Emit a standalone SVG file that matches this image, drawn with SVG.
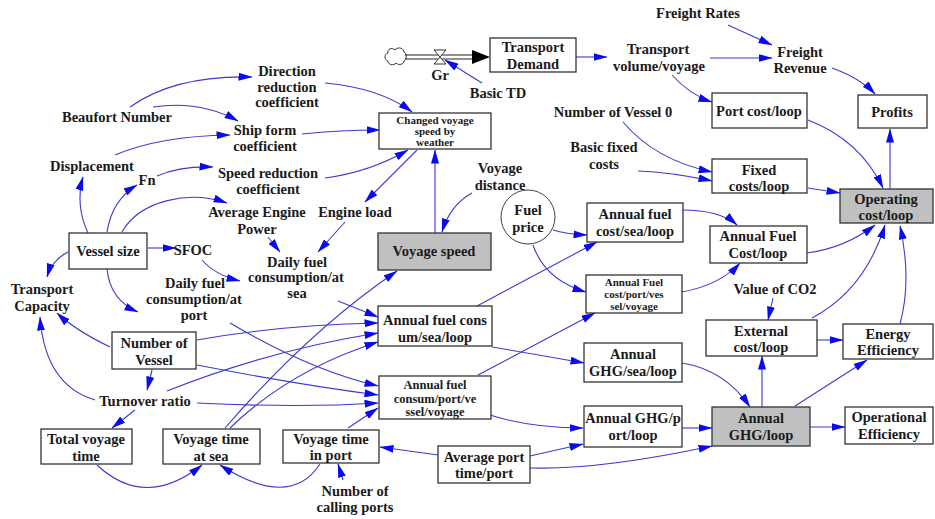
<svg xmlns="http://www.w3.org/2000/svg" width="935" height="519" viewBox="0 0 935 519">
<style>
text{font-family:"Liberation Serif","Times New Roman",serif;font-weight:bold;font-size:14.5px;fill:#1a1a1a;text-anchor:middle}
.tight{font-size:11px}
.mid{font-size:12.5px}
.box{fill:#fff;stroke:#333;stroke-width:1.3}
.gray{fill:#c0c0c0;stroke:#333;stroke-width:1.3}
#connectors path{fill:none;stroke:#3a3ad0;stroke-width:1.1;marker-end:url(#ah)}
</style>
<defs>
<marker id="ah" viewBox="0 0 14 8" refX="13.5" refY="4" markerWidth="14" markerHeight="8" orient="auto" markerUnits="userSpaceOnUse">
<path d="M0,0 L14,4 L0,8 Z" fill="#0a0af0"/>
</marker>
</defs>
<rect width="935" height="519" fill="#fff"/>

<g id="connectors">
<path d="M130,107 Q175,75 252,77"/>
<path d="M153,107 Q200,100 238,121"/>
<path d="M115,155 Q160,136 230,135"/>
<path d="M157,176 Q180,166 213,167"/>
<path d="M88,233 Q75,205 83,177"/>
<path d="M107,232 Q112,200 137,185"/>
<path d="M122,232 C140,200 190,190 227,203"/>
<path d="M148,248 L176,248"/>
<path d="M68,252 Q52,260 47,277"/>
<path d="M107,269 Q110,300 138,312"/>
<path d="M202,260 Q215,275 240,281"/>
<path d="M268,237 L280,252"/>
<path d="M345,222 L318,252"/>
<path d="M417,150 L365,202"/>
<path d="M325,83 Q380,88 412,112"/>
<path d="M302,134 Q340,130 380,130"/>
<path d="M325,178 Q370,172 408,150"/>
<path d="M435,233 L435,150"/>
<path d="M472,193 Q450,205 442,232"/>
<path d="M576,57 L607,57"/>
<path d="M728,25 L772,45"/>
<path d="M710,58 L772,58"/>
<path d="M672,75 Q690,95 712,102"/>
<path d="M832,68 Q860,78 875,94"/>
<path d="M623,122 Q655,160 712,172"/>
<path d="M638,171 Q670,172 712,181"/>
<path d="M808,120 Q860,140 883,188"/>
<path d="M890,189 L890,129"/>
<path d="M808,188 L840,193"/>
<path d="M682,210 Q720,210 737,225"/>
<path d="M682,292 Q720,285 740,263"/>
<path d="M807,253 Q845,248 875,225"/>
<path d="M773,298 L768,320"/>
<path d="M812,318 Q865,290 885,225"/>
<path d="M900,324 Q912,280 900,226"/>
<path d="M817,340 L843,340"/>
<path d="M762,407 L762,356"/>
<path d="M795,406 L867,360"/>
<path d="M810,427 L845,427"/>
<path d="M682,363 Q725,370 750,407"/>
<path d="M682,428 L712,428"/>
<path d="M530,468 Q600,470 712,446"/>
<path d="M530,456 L583,444"/>
<path d="M438,455 L380,447"/>
<path d="M343,480 L338,464"/>
<path d="M490,415 Q530,428 583,428"/>
<path d="M478,375 L595,313"/>
<path d="M477,306 L597,242"/>
<path d="M492,347 Q540,355 584,363"/>
<path d="M553,230 Q565,234 587,235"/>
<path d="M533,245 Q545,280 586,292"/>
<path d="M338,301 L378,317"/>
<path d="M197,340 Q280,325 378,323"/>
<path d="M167,391 Q270,350 378,333"/>
<path d="M230,428 Q290,370 378,342"/>
<path d="M225,428 Q310,330 397,271"/>
<path d="M230,323 Q310,370 378,386"/>
<path d="M197,365 Q300,385 378,395"/>
<path d="M197,403 Q300,408 378,403"/>
<path d="M348,428 L378,408"/>
<path d="M110,347 Q75,330 57,313"/>
<path d="M95,400 Q45,385 40,317"/>
<path d="M152,370 L147,390"/>
<path d="M135,410 L112,428"/>
<path d="M97,465 Q145,510 202,465"/>
<path d="M320,464 Q290,510 220,465"/>
<path d="M482,83 L445,60"/>
</g>

<g id="flow_gr">
<path d="M404,52 C403,47 397,47 395,50 C392,47 387,49 388,53 C384,54 384,60 388,61 C388,65 394,66 396,63 C399,66 404,64 404,61 C407,60 407,53 404,52 Z" fill="#fff" stroke="#333" stroke-width="1"/>
<line x1="405" y1="55" x2="474" y2="55" stroke="#222" stroke-width="1.2"/>
<line x1="405" y1="59" x2="474" y2="59" stroke="#222" stroke-width="1.2"/>
<path d="M434,50 H446 L434,64 H446 Z" fill="#fff" stroke="#333" stroke-width="1"/>
<path d="M472,50 L490,57 L472,64 Z" fill="#000"/>
<text x="440" y="80">Gr</text>
</g>
<g id="basic_td"><text x="498" y="98">Basic TD</text></g>
<g id="transport_demand"><rect class="box" x="490" y="38" width="86" height="34"/><text x="533" y="52">Transport</text><text x="533" y="69">Demand</text></g>
<g id="freight_rates"><text x="698" y="18">Freight Rates</text></g>
<g id="transport_volume"><text x="658" y="54">Transport</text><text x="659" y="71">volume/voyage</text></g>
<g id="freight_revenue"><text x="800" y="57">Freight</text><text x="800" y="73">Revenue</text></g>
<g id="profits"><rect class="box" x="858" y="95" width="69" height="33"/><text x="892" y="117">Profits</text></g>
<g id="port_cost"><rect class="box" x="712" y="93" width="95" height="35"/><text x="759" y="116">Port cost/loop</text></g>
<g id="number_vessel0"><text x="613" y="117">Number of Vessel 0</text></g>
<g id="basic_fixed"><text x="604" y="152">Basic fixed</text><text x="604" y="169">costs</text></g>
<g id="fixed_costs"><rect class="box" x="712" y="159" width="95" height="34"/><text x="759" y="175">Fixed</text><text x="759" y="191">costs/loop</text></g>
<g id="operating_cost"><rect class="gray" x="840" y="189" width="93" height="34"/><text x="886" y="204">Operating</text><text x="886" y="220">cost/loop</text></g>
<g id="annual_fuel_cost_loop"><rect class="box" x="710" y="226" width="97" height="37"/><text x="758" y="241">Annual Fuel</text><text x="758" y="258">Cost/loop</text></g>
<g id="value_co2"><text x="775" y="294">Value of CO2</text></g>
<g id="external_cost"><rect class="box" x="706" y="320" width="111" height="36"/><text x="761" y="336">External</text><text x="761" y="352">cost/loop</text></g>
<g id="energy_efficiency"><rect class="box" x="843" y="324" width="90" height="35"/><text x="888" y="339">Energy</text><text x="888" y="355">Efficiency</text></g>
<g id="annual_ghg_loop"><rect class="gray" x="712" y="407" width="98" height="39"/><text x="761" y="423">Annual</text><text x="761" y="440">GHG/loop</text></g>
<g id="operational_efficiency"><rect class="box" x="845" y="407" width="88" height="37"/><text x="889" y="422">Operational</text><text x="889" y="439">Efficiency</text></g>
<g id="annual_ghg_sea"><rect class="box" x="584" y="343" width="98" height="39"/><text x="633" y="359">Annual</text><text x="633" y="376">GHG/sea/loop</text></g>
<g id="annual_ghg_port"><rect class="box" x="584" y="406" width="98" height="41"/><text x="633" y="423">Annual GHG/p</text><text x="633" y="440">ort/loop</text></g>
<g id="annual_fuel_cost_sea"><rect class="box" x="587" y="203" width="96" height="39"/><text x="635" y="219">Annual fuel</text><text x="635" y="236">cost/sea/loop</text></g>
<g id="annual_fuel_cost_port"><rect class="box" x="586" y="275" width="96" height="38"/><text class="tight" x="634" y="286">Annual Fuel</text><text class="tight" x="634" y="298">cost/port/ves</text><text class="tight" x="634" y="310">sel/voyage</text></g>
<g id="fuel_price"><circle cx="528" cy="217" r="27" fill="#fff" stroke="#444" stroke-width="1"/><text x="528" y="215">Fuel</text><text x="528" y="232">price</text></g>
<g id="voyage_distance"><text x="500" y="173">Voyage</text><text x="500" y="190">distance</text></g>
<g id="voyage_speed"><rect class="gray" x="378" y="233" width="113" height="37"/><text x="434" y="256">Voyage speed</text></g>
<g id="changed_voyage_speed"><rect class="box" x="379" y="113" width="112" height="36"/><text class="tight" x="435" y="124">Changed voyage</text><text class="tight" x="435" y="135">speed by</text><text class="tight" x="435" y="146">weather</text></g>
<g id="direction_reduction"><text x="287" y="76">Direction</text><text x="287" y="92">reduction</text><text x="287" y="107">coefficient</text></g>
<g id="beaufort"><text x="117" y="122">Beaufort Number</text></g>
<g id="ship_form"><text x="265" y="135">Ship form</text><text x="265" y="151">coefficient</text></g>
<g id="displacement"><text x="92" y="171">Displacement</text></g>
<g id="fn"><text x="147" y="185">Fn</text></g>
<g id="speed_reduction"><text x="268" y="178">Speed reduction</text><text x="268" y="194">coefficient</text></g>
<g id="avg_engine_power"><text x="257" y="217">Average Engine</text><text x="257" y="234">Power</text></g>
<g id="engine_load"><text x="355" y="217">Engine load</text></g>
<g id="sfoc"><text x="193" y="255">SFOC</text></g>
<g id="vessel_size"><rect class="box" x="69" y="233" width="78" height="36"/><text x="108" y="256">Vessel size</text></g>
<g id="daily_fuel_sea"><text x="297" y="267">Daily fuel</text><text x="296" y="282">consumption/at</text><text x="297" y="298">sea</text></g>
<g id="daily_fuel_port"><text x="195" y="288">Daily fuel</text><text x="194" y="304">consumption/at</text><text x="194" y="320">port</text></g>
<g id="transport_capacity"><text x="42" y="294">Transport</text><text x="42" y="311">Capacity</text></g>
<g id="number_vessel"><rect class="box" x="112" y="332" width="84" height="37"/><text x="154" y="348">Number of</text><text x="154" y="365">Vessel</text></g>
<g id="turnover_ratio"><text x="145" y="406">Turnover ratio</text></g>
<g id="total_voyage_time"><rect class="box" x="41" y="429" width="91" height="35"/><text x="86" y="444">Total voyage</text><text x="86" y="461">time</text></g>
<g id="voyage_time_sea"><rect class="box" x="163" y="429" width="97" height="35"/><text x="211" y="444">Voyage time</text><text x="211" y="461">at sea</text></g>
<g id="voyage_time_port"><rect class="box" x="283" y="430" width="96" height="33"/><text x="331" y="444">Voyage time</text><text x="331" y="460">in port</text></g>
<g id="calling_ports"><text x="355" y="496">Number of</text><text x="355" y="512">calling ports</text></g>
<g id="avg_port_time"><rect class="box" x="438" y="446" width="92" height="37"/><text x="484" y="462">Average port</text><text x="484" y="478">time/port</text></g>
<g id="annual_fuel_consum_sea"><rect class="box" x="378" y="306" width="114" height="40"/><text x="435" y="325">Annual fuel cons</text><text x="435" y="342">um/sea/loop</text></g>
<g id="annual_fuel_consum_port"><rect class="box" x="379" y="376" width="112" height="43"/><text class="mid" x="435" y="389">Annual fuel</text><text class="mid" x="435" y="403">consum/port/ve</text><text class="mid" x="435" y="416">ssel/voyage</text></g>
</svg>
